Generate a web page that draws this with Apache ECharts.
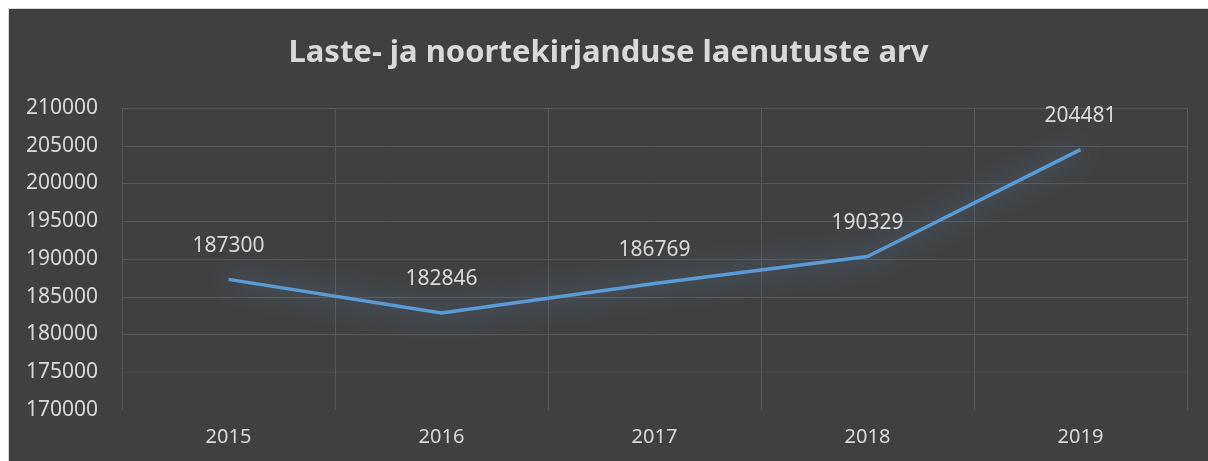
<!DOCTYPE html>
<html>
<head>
<meta charset="utf-8">
<script src="https://cdn.jsdelivr.net/npm/echarts@6/dist/echarts.min.js"></script>
<style>
html,body{margin:0;padding:0;background:#ffffff;}
#frame{position:absolute;left:8px;top:8px;width:1200px;height:453px;border-left:1px solid #d9d9d9;border-top:1px solid #d9d9d9;box-sizing:border-box;}
#echarts{position:absolute;left:9px;top:9px;width:1199px;height:452px;}
</style>
</head>
<body>
<div id="frame"></div>
<div id="echarts"></div>
<script>
var titleText='Laste- ja noortekirjanduse laenutuste arv';
var years=['2015','2016','2017','2018','2019'];
var loans=[187300,182846,186769,190329,204481];
var yMin=170000, yMax=210000, yStep=5000;

function draw(){
    var myChart=echarts.init(document.getElementById('echarts'));
    var textColor='#d9d9d9';
    var font='"Noto Sans", sans-serif';
    var gridCol='#585858';
    var option={
        backgroundColor:'#404040',
        animation:false,
        title:{
            left:'center',
            top:24,
            text:titleText,
            textStyle:{
                color:textColor,
                fontSize:31,
                fontWeight:'bold',
                fontFamily:font
            }
        },
        grid:{left:113,right:21,top:99,bottom:51},
        xAxis:{
            type:'category',
            data:years,
            boundaryGap:true,
            axisLine:{show:false},
            axisTick:{show:false},
            splitLine:{show:true,lineStyle:{color:gridCol,width:1}},
            axisLabel:{color:textColor,fontSize:20,fontFamily:font,margin:17}
        },
        yAxis:{
            type:'value',
            min:yMin,
            max:yMax,
            interval:yStep,
            axisLine:{show:false},
            axisTick:{show:false},
            splitLine:{lineStyle:{color:['rgba(0,0,0,0)','#4a4a4a',gridCol,gridCol,gridCol,gridCol,gridCol,gridCol,gridCol],width:1}},
            axisLabel:{color:textColor,fontSize:21,fontFamily:font,margin:24,formatter:function(v){return String(v);}}
        },
        series:[
            {
                name:'laenutused',
                type:'line',
                data:loans,
                symbol:'circle',
                symbolSize:2,
                showSymbol:true,
                itemStyle:{color:'rgba(91,155,213,0)'},
                lineStyle:{
                    color:'#5b9bd5',
                    width:3.5,
                    shadowColor:'rgba(91,155,213,1)',
                    shadowBlur:28
                },
                label:{
                    show:true,
                    position:'top',
                    distance:22,
                    color:textColor,
                    fontSize:21,
                    fontFamily:font,
                    formatter:function(p){return String(p.value);}
                }
            }
        ]
    };
    myChart.setOption(option);
}
draw();
</script>
</body>
</html>
